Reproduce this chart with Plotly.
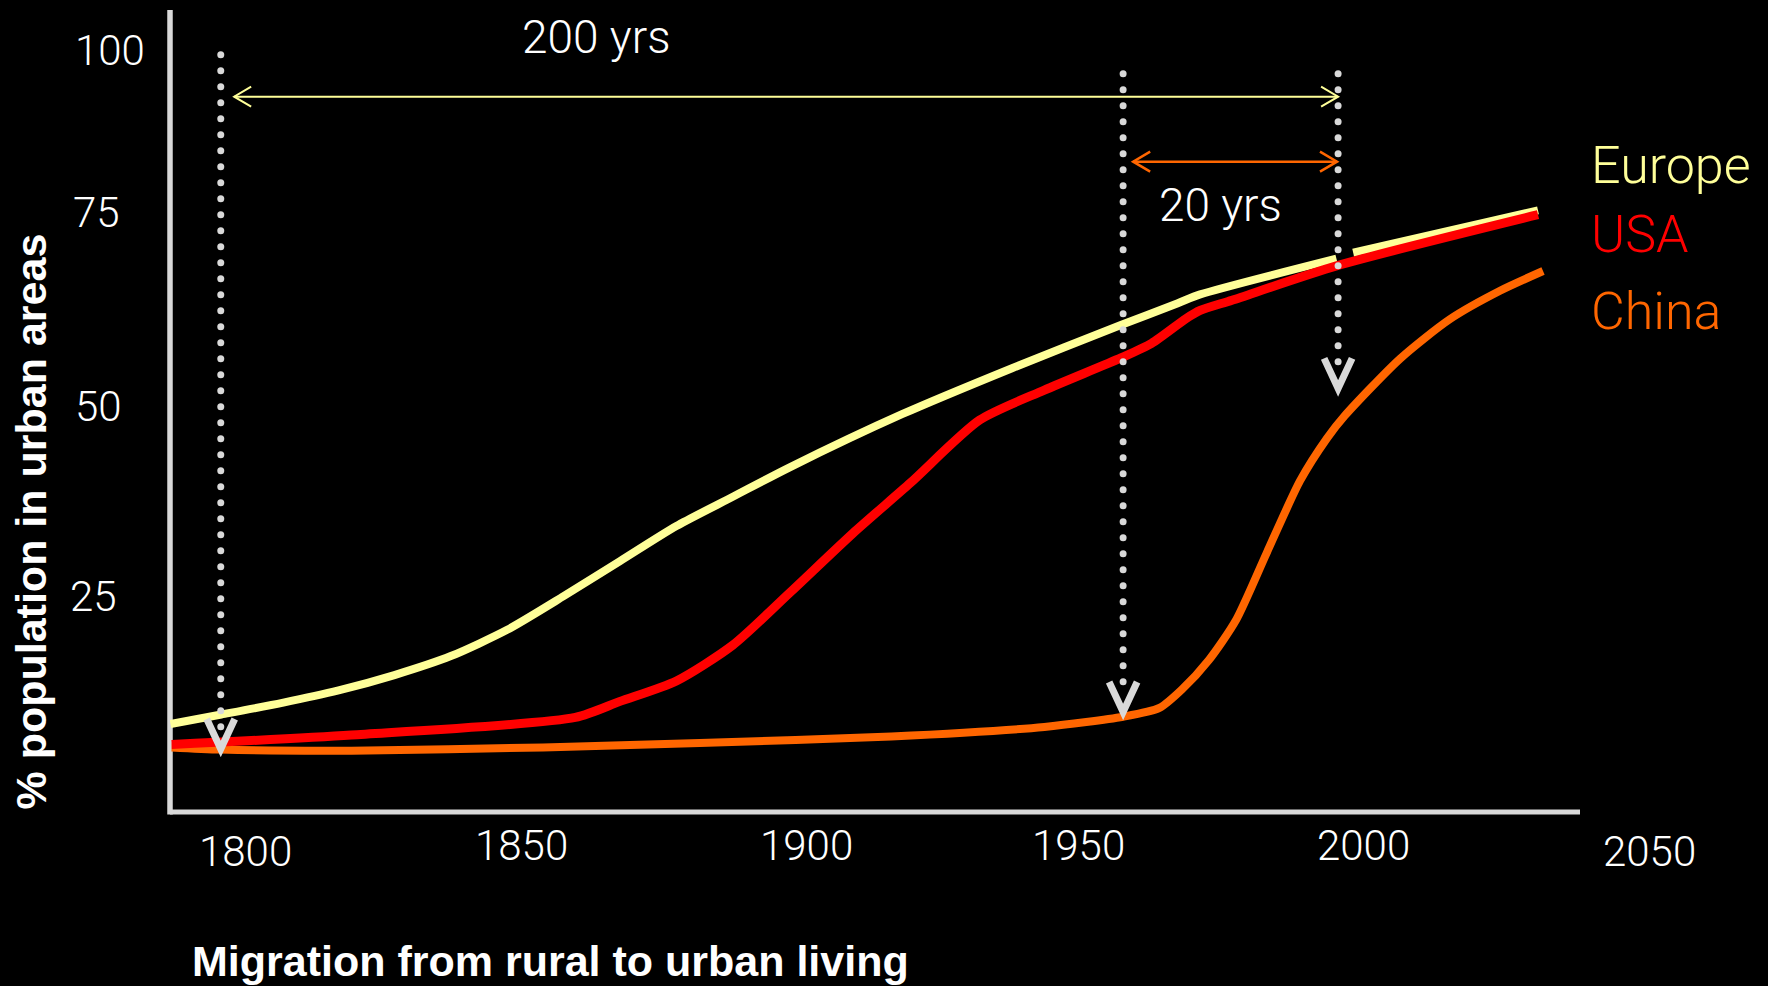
import numpy as np
import plotly.graph_objects as go

# ---- share of population living in urban areas (%) ----
europe_year = [1786.8, 1795.9, 1806.8, 1816.9, 1826.9, 1837.0, 1847.1, 1857.2, 1867.3,
               1877.4, 1887.5, 1897.6, 1917.8, 1937.5, 1957.0, 1967.2, 1971.2, 1995.6, None,
               1998.6, 2031.7]
europe_pct = [6.7, 8.0, 9.6, 11.3, 13.4, 16.0, 19.6, 24.2, 29.0,
              33.8, 37.8, 41.8, 49.1, 55.4, 61.3, 64.3, 65.5, 70.4, None,
              71.2, 77.0]

usa_year = [1787.0, 1819.2, 1859.3, 1867.3, 1877.4, 1887.5, 1897.6, 1909.0, 1919.3,
            1931.7, 1943.3, 1957.0, 1962.5, 1968.7, 1971.2, 1976.9, 1995.6, 2031.7]
usa_pct = [3.9, 5.2, 7.6, 9.8, 12.6, 17.5, 24.6, 32.8, 39.7,
           48.3, 52.4, 56.8, 58.8, 62.2, 63.3, 64.7, 69.4, 76.4]

china_year = [1787.0, 1795.8, 1819.2, 1853.5, 1881.6, 1915.9, 1943.3, 1957.4, 1963.9,
              1967.9, 1972.8, 1977.6, 1983.1, 1989.1, 1993.9, 1997.1, 2007.0, 2015.9,
              2024.9, 2032.6]
china_pct = [3.5, 3.2, 3.05, 3.5, 4.1, 5.0, 6.3, 7.7, 8.9,
             11.4, 15.5, 20.9, 30.1, 40.0, 45.8, 48.9, 56.7, 62.1,
             66.0, 68.7]

# ---- axis labels ----
x_tick_years = [1800, 1850, 1900, 1950, 2000, 2050]
x_tick_text = ["1800", "1850", "1900", "1950", "2000", "2050"]
y_tick_values = [100, 75, 50, 25]
y_tick_text = ["100", "75", "50", "25"]

# ---- vertical guides (year, top of dots, arrow tip in %) ----
guide_years = [1795.8, 1957.4, 1995.9]
guide_top = [98.3, 95.7, 95.7]
guide_tip = [3.15, 8.2, 52.5]

# ---- horizontal span arrows ----
span_start = [1798.2, 1959.2]
span_end = [1995.9, 1995.7]
span_level = [92.55, 83.66]
span_text = ["200 yrs", "20 yrs"]
span_text_year = [1863.0, 1974.9]
span_text_pct = [100.7, 77.7]

series_names = ["Europe", "USA", "China"]
series_colors = ["#ffff99", "#ff0000", "#ff6600"]

X_RANGE = [1786.71, 2039.22]
Y_RANGE = [-5.34, 104.42]
W, H = 1768, 986
M = dict(l=170, r=188, t=10, b=174)
plot_w = W - M["l"] - M["r"]
plot_h = H - M["t"] - M["b"]
px_per_pct = plot_h / (Y_RANGE[1] - Y_RANGE[0])


def year_to_paper(yr):
    return (yr - X_RANGE[0]) / (X_RANGE[1] - X_RANGE[0])


def px_to_paper_y(py):
    return (M["t"] + plot_h - py) / plot_h


GUIDE = "#d9d9d9"
NUM_FONT = dict(family="Roboto", size=42, color="white", weight=300)

fig = go.Figure()

# urban share curves (USA drawn last so it sits on top)
for yrs, pct, name, color, width in [
    (europe_year, europe_pct, "Europe", series_colors[0], 8),
    (china_year, china_pct, "China", series_colors[2], 8),
    (usa_year, usa_pct, "USA", series_colors[1], 9),
]:
    fig.add_trace(go.Scatter(
        x=yrs, y=pct, name=name, mode="lines",
        line=dict(color=color, width=width, shape="spline", smoothing=0.7),
        connectgaps=False, hoverinfo="skip",
    ))

# dotted guides drawn as round dots every 16 px, ending inside the arrow head
for yr, top, tip in zip(guide_years, guide_top, guide_tip):
    ys = np.arange(top, tip + 22 / px_per_pct, -16 / px_per_pct)
    fig.add_trace(go.Scatter(
        x=[yr] * len(ys), y=ys, mode="markers",
        marker=dict(symbol="circle", size=7, color=GUIDE, line=dict(width=0)),
        hoverinfo="skip",
    ))

shapes = []
# axis lines
shapes.append(dict(type="line", xref="paper", yref="paper", x0=0, x1=0, y0=-0.003, y1=1,
                   line=dict(color=GUIDE, width=5.5), layer="below"))
shapes.append(dict(type="line", xref="paper", yref="paper", x0=0, x1=1, y0=0, y1=0,
                   line=dict(color=GUIDE, width=5), layer="below"))

# open chevron arrow heads at the bottom of the guides
for yr, tip in zip(guide_years, guide_tip):
    shapes.append(dict(type="path", xref="x", yref="y",
                       xsizemode="pixel", ysizemode="pixel",
                       xanchor=yr, yanchor=tip,
                       path="M -14,31 L 0,1 L 14,31",
                       line=dict(color=GUIDE, width=7)))

# span arrows with open heads at both ends
for x0, x1, lvl, color, lw in zip(span_start, span_end, span_level,
                                  [series_colors[0], series_colors[2]], [2, 2.5]):
    shapes.append(dict(type="line", xref="x", yref="y", x0=x0, x1=x1, y0=lvl, y1=lvl,
                       line=dict(color=color, width=lw)))
    shapes.append(dict(type="path", xref="x", yref="y", xsizemode="pixel", ysizemode="pixel",
                       xanchor=x0, yanchor=lvl, path="M 17,10 L 0,0 L 17,-10",
                       line=dict(color=color, width=lw)))
    shapes.append(dict(type="path", xref="x", yref="y", xsizemode="pixel", ysizemode="pixel",
                       xanchor=x1, yanchor=lvl, path="M -17,10 L 0,0 L -17,-10",
                       line=dict(color=color, width=lw)))

annotations = []
# x tick labels, nudged as laid out on the slide
x_nudge_x = [1, -2, 4, -3, 3, 9]
x_nudge_y = [-6, 0, 0, 0, 0, -6]
for yr, txt, dx, dy in zip(x_tick_years, x_tick_text, x_nudge_x, x_nudge_y):
    annotations.append(dict(x=year_to_paper(yr), y=px_to_paper_y(846), xref="paper", yref="paper",
                            text=txt, showarrow=False,
                            xanchor="center", yanchor="middle", xshift=dx, yshift=dy,
                            font=NUM_FONT))
# y tick labels
y_nudge = [-8, 12, 1, -6]
y_nudge_x = [0, -2, 0, -5]
for val, txt, dy, dx in zip(y_tick_values, y_tick_text, y_nudge, y_nudge_x):
    annotations.append(dict(x=-0.069, y=val, xref="paper", yref="y", text=txt, showarrow=False,
                            xanchor="left", yanchor="middle", yshift=dy, xshift=dx,
                            font=NUM_FONT))

# span labels
for txt, yr, pct in zip(span_text, span_text_year, span_text_pct):
    annotations.append(dict(x=yr, y=pct, xref="x", yref="y", text=txt, showarrow=False,
                            xanchor="center", yanchor="middle",
                            font=dict(family="Roboto", size=46, color="white", weight=300)))

# series labels
label_y = [px_to_paper_y(165), px_to_paper_y(234), px_to_paper_y(311)]
for name, color, ly in zip(series_names, series_colors, label_y):
    annotations.append(dict(x=(1589 - M["l"]) / plot_w, y=ly,
                            xref="paper", yref="paper", text=name, showarrow=False,
                            xanchor="left", yanchor="middle",
                            font=dict(family="Roboto", size=52, color=color, weight=300)))

# axis titles
TITLE_FONT = dict(family="Liberation Sans", size=43, color="white", weight="bold")
annotations.append(dict(x=(190 - M["l"]) / plot_w, y=px_to_paper_y(961),
                        xref="paper", yref="paper", text="Migration from rural to urban living",
                        showarrow=False, xanchor="left", yanchor="middle", font=TITLE_FONT))
annotations.append(dict(x=(30 - M["l"]) / plot_w, y=px_to_paper_y(521.5),
                        xref="paper", yref="paper", text="% population in urban areas",
                        showarrow=False, textangle=-90, xanchor="center", yanchor="middle",
                        font=TITLE_FONT))

fig.update_layout(
    width=W, height=H, margin=M,
    paper_bgcolor="black", plot_bgcolor="black",
    showlegend=False,
    xaxis=dict(range=X_RANGE, visible=False, fixedrange=True),
    yaxis=dict(range=Y_RANGE, visible=False, fixedrange=True),
    shapes=shapes, annotations=annotations,
)

fig.write_html("out.html")
